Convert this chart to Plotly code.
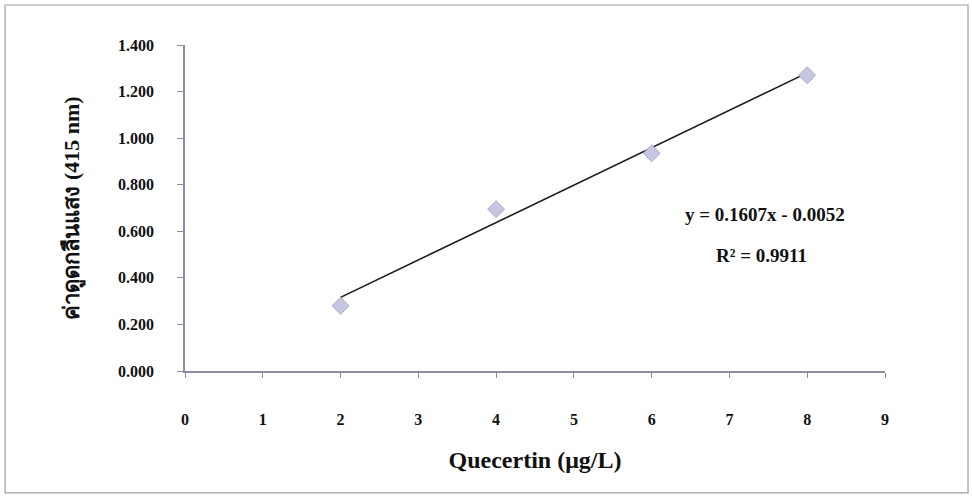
import plotly.graph_objects as go

conc = [2, 4, 6, 8]
absorb = [0.280, 0.695, 0.935, 1.270]
slope = 0.1607
intercept = -0.0052
r2 = 0.9911
x_ticks = [0, 1, 2, 3, 4, 5, 6, 7, 8, 9]
y_ticks = [0.0, 0.2, 0.4, 0.6, 0.8, 1.0, 1.2, 1.4]

fit_x = [min(conc), max(conc)]
fit_y = [slope * v + intercept for v in fit_x]

serif = "Liberation Serif, Times New Roman, serif"
axis_col = "#8c8ca8"

fig = go.Figure()
fig.add_trace(go.Scatter(x=fit_x, y=fit_y, mode="lines",
                         line=dict(color="#1a1a1a", width=1.6), showlegend=False))
fig.add_trace(go.Scatter(x=conc, y=absorb, mode="markers",
                         marker=dict(symbol="diamond", size=13, color="#c5c6e2",
                                     line=dict(color="#a8a9c8", width=1)),
                         showlegend=False))

fig.update_layout(
    width=972, height=498,
    margin=dict(l=185, r=87, t=45, b=127),
    paper_bgcolor="white", plot_bgcolor="white",
    font=dict(family=serif, color="#111111"),
    xaxis=dict(range=[0, 9], tickvals=x_ticks, ticktext=[f"<b>{v}</b>" for v in x_ticks],
               showgrid=False, zeroline=False, showline=True, linecolor=axis_col, linewidth=1.5,
               ticks="outside", ticklen=5, tickcolor=axis_col, tickfont=dict(size=16, family=serif),
               ticklabelstandoff=28,
               title=dict(text="<b>Quecertin (μg/L)</b>", font=dict(size=24, family=serif), standoff=24)),
    yaxis=dict(range=[0, 1.4], tickvals=y_ticks, ticktext=[f"<b>{v:.3f}</b>" for v in y_ticks],
               showgrid=False, zeroline=False, showline=True, linecolor=axis_col, linewidth=1.5,
               ticks="outside", ticklen=6, tickcolor=axis_col, tickfont=dict(size=16, family=serif),
               ticklabelstandoff=20,
               title=dict(text="<b>ค่าดูดกลืนแสง (415 nm)</b>", font=dict(size=22, family=serif), standoff=32)),
)

fig.add_shape(type="rect", xref="paper", yref="paper",
              x0=-0.257, x1=1.1186, y0=-0.374, y1=1.1227,
              line=dict(color="#a0a0a0", width=1.2))

fig.add_annotation(x=7.46, y=0.670, xref="x", yref="y",
                   text=f"<b>y = {slope}x - {abs(intercept):.4f}</b>", showarrow=False,
                   font=dict(size=19, family=serif, color="#111111"))
fig.add_annotation(x=7.41, y=0.494, xref="x", yref="y",
                   text=f"<b>R² = {r2}</b>", showarrow=False,
                   font=dict(size=19, family=serif, color="#111111"))

fig.write_html("out.html")
